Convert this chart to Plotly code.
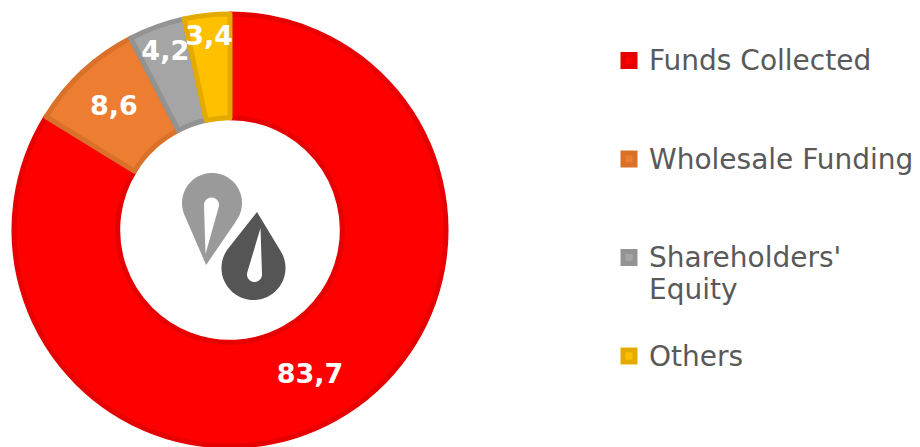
import math
import plotly.graph_objects as go

# ---- data ----
categories = ["Funds Collected", "Wholesale Funding", "Shareholders' Equity", "Others"]
legend_labels = [
    "Funds Collected<br> <br> ",
    "Wholesale Funding<br> <br> ",
    "Shareholders'<br>Equity<br> ",
    "Others",
]
values = [83.7, 8.6, 4.2, 3.4]

fill_colors = ["#FF0000", "#ED7D31", "#A5A5A5", "#FFC000"]
edge_colors = ["#E60000", "#D9712B", "#939393", "#E3AB00"]

W, H = 920, 447


def px(x, y):
    return x / W, 1 - y / H


def teardrop(c, r, tip, n=60):
    cx, cy = c
    dx, dy = tip[0] - cx, tip[1] - cy
    d = math.hypot(dx, dy)
    th = math.atan2(dy, dx)
    a = math.acos(r / d)
    pts = [tip]
    start = th + a
    end = th - a + 2 * math.pi
    for i in range(n + 1):
        t = start + (end - start) * i / n
        pts.append((cx + r * math.cos(t), cy + r * math.sin(t)))
    return pts


def clip(poly, nrm, limit, keep_less=True):
    def inside(p):
        v = p[0] * nrm[0] + p[1] * nrm[1]
        return v <= limit if keep_less else v >= limit

    def inter(p, q):
        vp = p[0] * nrm[0] + p[1] * nrm[1]
        vq = q[0] * nrm[0] + q[1] * nrm[1]
        t = (limit - vp) / (vq - vp)
        return (p[0] + (q[0] - p[0]) * t, p[1] + (q[1] - p[1]) * t)

    out = []
    for i in range(len(poly)):
        cur, prev = poly[i], poly[i - 1]
        if inside(cur):
            if not inside(prev):
                out.append(inter(prev, cur))
            out.append(cur)
        elif inside(prev):
            out.append(inter(prev, cur))
    return out


def to_path(pts):
    s = ""
    for i, (x, y) in enumerate(pts):
        X, Y = px(x, y)
        s += ("M" if i == 0 else "L") + f"{X:.5f},{Y:.5f}"
    return s + "Z"


nrm = (0.825, 0.566)
light = clip(teardrop((212, 203), 30, (207, 267)), nrm, 320.0, True)
dark = clip(teardrop((253.5, 268), 32, (257, 212)), nrm, 327.0, False)
light_slit = teardrop((211.5, 205), 7.5, (205.5, 254), 30)
dark_slit = teardrop((254.5, 274.5), 7.5, (260.5, 228), 30)

shapes = [
    dict(type="path", path=to_path(light), xref="paper", yref="paper",
         fillcolor="#9A9A9A", line=dict(width=0), layer="above"),
    dict(type="path", path=to_path(dark), xref="paper", yref="paper",
         fillcolor="#555555", line=dict(width=0), layer="above"),
    dict(type="path", path=to_path(light_slit), xref="paper", yref="paper",
         fillcolor="#FFFFFF", line=dict(width=0), layer="above"),
    dict(type="path", path=to_path(dark_slit), xref="paper", yref="paper",
         fillcolor="#FFFFFF", line=dict(width=0), layer="above"),
]

legend_text = [f"<span style='font-size:28px'>{t}</span>" for t in legend_labels]

fig = go.Figure(
    go.Pie(
        labels=legend_text,
        values=values,
        hole=0.52,
        sort=False,
        direction="clockwise",
        rotation=0,
        marker=dict(colors=fill_colors, line=dict(color=edge_colors, width=5)),
        texttemplate="%{value:.1f}",
        textposition="inside",
        insidetextorientation="horizontal",
        textfont=dict(family="DejaVu Sans", size=27, color="#FFFFFF", weight="bold"),
        domain=dict(x=[14 / W, 446 / W], y=[1 - 446 / H, 1 - 14 / H]),
        hoverinfo="label+value",
    )
)

fig.update_layout(
    width=W,
    height=H,
    margin=dict(l=0, r=0, t=0, b=0, autoexpand=False),
    paper_bgcolor="#FFFFFF",
    plot_bgcolor="#FFFFFF",
    separators=",.",
    uniformtext=dict(minsize=27, mode="show"),
    showlegend=True,
    legend=dict(
        x=609 / W,
        xanchor="left",
        y=1 - 38 / H,
        yanchor="top",
        valign="top",
        font=dict(family="DejaVu Sans", size=24.5, color="#595959"),
        bgcolor="rgba(0,0,0,0)",
        traceorder="normal",
    ),
    shapes=shapes,
)

fig.write_html(
    "out.html",
    config={"displayModeBar": False},
    post_script="document.body.style.margin='0px';",
)
